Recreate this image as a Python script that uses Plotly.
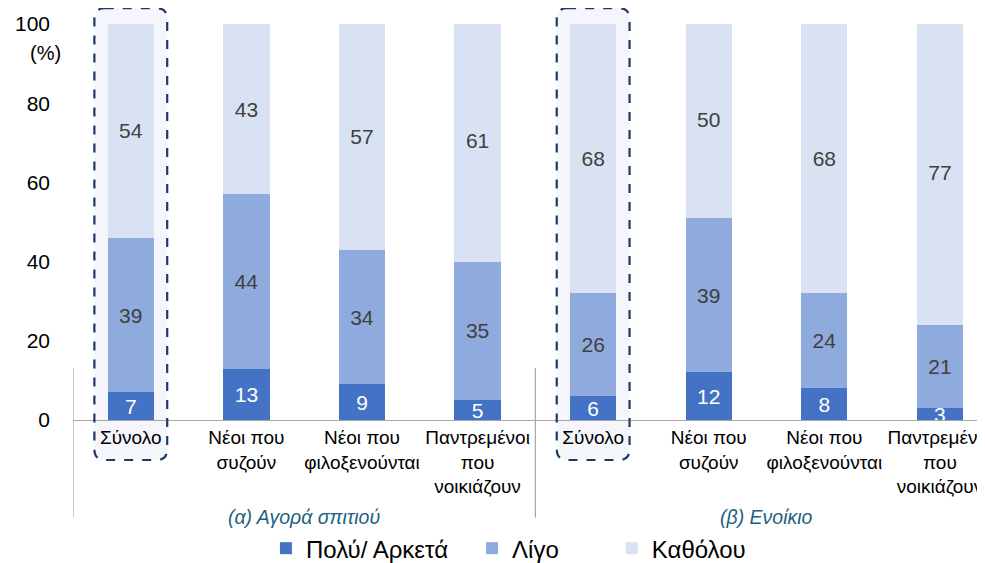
import plotly.graph_objects as go

# Data
categories = ["Σύνολο", "Νέοι που<br>συζούν", "Νέοι που<br>φιλοξενούνται", "Παντρεμένοι<br>που<br>νοικιάζουν",
              "Σύνολο", "Νέοι που<br>συζούν", "Νέοι που<br>φιλοξενούνται", "Παντρεμένοι<br>που<br>νοικιάζουν"]
groups = ["(α) Αγορά σπιτιού", "(β) Ενοίκιο"]
poly_arketa = [7, 13, 9, 5, 6, 12, 8, 3]
ligo = [39, 44, 34, 35, 26, 39, 24, 21]
katholou = [54, 43, 57, 61, 68, 50, 68, 77]
y_ticks = [0, 20, 40, 60, 80, 100]

FONT = "Arial, Liberation Sans, sans-serif"
xpos = list(range(len(categories)))

fig = go.Figure()
series = [
    ("Πολύ/ Αρκετά", poly_arketa, "#4472C4", "white", "legend2"),
    ("Λίγο", ligo, "#8FAADC", "#404040", "legend3"),
    ("Καθόλου", katholou, "#D9E2F3", "#404040", "legend4"),
]
for name, vals, color, tcolor, leg in series:
    fig.add_trace(go.Bar(
        x=xpos, y=vals, name=name, legend=leg, showlegend=True,
        marker=dict(color=color, line=dict(width=0)),
        text=[str(v) for v in vals],
        textposition="inside", insidetextanchor="middle", textangle=0,
        textfont=dict(color=tcolor, size=21, family=FONT),
        width=0.4,
    ))

# highlight boxes around the "Σύνολο" columns
def rounded_box(cx, hw, y0, y1, rx, ry):
    x0, x1 = cx - hw, cx + hw
    return (f"M {x0+rx},{y1} L {x1-rx},{y1} Q {x1},{y1} {x1},{y1-ry} "
            f"L {x1},{y0+ry} Q {x1},{y0} {x1-rx},{y0} "
            f"L {x0+rx},{y0} Q {x0},{y0} {x0},{y0+ry} "
            f"L {x0},{y1-ry} Q {x0},{y1} {x0+rx},{y1} Z")

shapes = []
for cx in [0, 4]:
    shapes.append(dict(type="path", xref="x", yref="paper", layer="below",
                       path=rounded_box(cx, 0.315, -0.101, 1.04, 0.09, 0.028),
                       fillcolor="#F4F6FB", line=dict(width=0)))
    shapes.append(dict(type="path", xref="x", yref="paper", layer="above",
                       path=rounded_box(cx, 0.315, -0.101, 1.04, 0.09, 0.028),
                       fillcolor="rgba(0,0,0,0)",
                       line=dict(color="#1F3864", width=2.2, dash="dash")))

# group separators
for sx in [-0.5, 3.5]:
    shapes.append(dict(type="line", xref="x", yref="paper", x0=sx, x1=sx,
                       y0=0.131, y1=-0.247, line=dict(color="#A6A6A6", width=1.2)))

annotations = [
    dict(text="(%)", xref="paper", yref="paper", x=-0.03, y=0.928, showarrow=False,
         xanchor="center", yanchor="middle", font=dict(size=20, color="black", family=FONT)),
]
for i, g in enumerate(groups):
    annotations.append(dict(text=f"<i>{g}</i>", xref="x", yref="paper", x=1.5 + 4 * i, y=-0.245,
                            showarrow=False, xanchor="center", yanchor="middle",
                            font=dict(size=19.5, color="#215F7E", family=FONT)))

def legend_at(x):
    return dict(orientation="h", x=x, xref="container", xanchor="left",
                y=0.026, yref="container", yanchor="middle",
                font=dict(size=24, family=FONT), itemwidth=30)

# page body has an 8px margin, so the figure is sized 8px smaller
fig.update_layout(
    barmode="stack",
    width=977, height=555,
    showlegend=True,
    margin=dict(l=65, r=0, t=16, b=143, autoexpand=False),
    paper_bgcolor="white", plot_bgcolor="rgba(0,0,0,0)",
    font=dict(family=FONT, color="black"),
    shapes=shapes, annotations=annotations,
    uniformtext=dict(minsize=21, mode="show"),
    legend2=legend_at(0.264),
    legend3=legend_at(0.475),
    legend4=legend_at(0.618),
    xaxis=dict(range=[-0.5, 7.39], tickmode="array", tickvals=xpos, ticktext=categories,
               showgrid=False, showline=True, linecolor="#A6A6A6", linewidth=1.2,
               ticks="", tickfont=dict(size=19, family=FONT), tickangle=0, automargin=False,
               ticklabeloverflow="allow"),
    yaxis=dict(range=[0, 100], tickvals=y_ticks, showgrid=False, showline=False,
               zeroline=False, ticklabelstandoff=22, tickfont=dict(size=21, family=FONT),
               automargin=False),
)

fig.write_html("out.html")
